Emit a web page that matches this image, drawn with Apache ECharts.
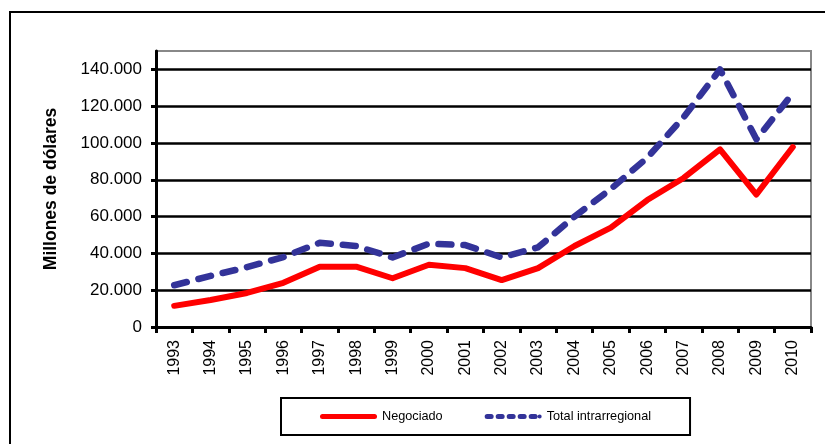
<!DOCTYPE html>
<html>
<head>
<meta charset="UTF-8">
<title>Comercio intrarregional</title>
<script src="https://cdn.jsdelivr.net/npm/echarts@6/dist/echarts.min.js"></script>
<style>
  html, body { margin: 0; padding: 0; background: #fff; }
  #chart { width: 825px; height: 444px; }
</style>
</head>
<body>
<div id="chart"></div>
<script>
// datos (millones de dolares)
var years = ['1993', '1994', '1995', '1996', '1997', '1998', '1999', '2000', '2001',
             '2002', '2003', '2004', '2005', '2006', '2007', '2008', '2009', '2010'];
var negociado = [11500, 14700, 18500, 24000, 32800, 32800, 26500, 33800, 32000,
                 25500, 32000, 44000, 54000, 69000, 81000, 96500, 72000, 97800];
var totalIntra = [22700, 27800, 32500, 38000, 45800, 44000, 37800, 45300, 44500,
                  37800, 43300, 60000, 75000, 92000, 114000, 140000, 102000, 127000];
var seriesNames = ['Negociado', 'Total intrarregional'];

var font = 'Arial, "Liberation Sans", sans-serif';

// iconos de la leyenda: linea continua y linea de trazos
var iconSolid = 'path://M2.5,0 H54.5 A2.5,2.5 0 0 1 54.5,5 H2.5 A2.5,2.5 0 0 1 2.5,0 Z';
var iconDash = 'path://M2.5,0 H6.5 A2.5,2.5 0 0 1 6.5,5 H2.5 A2.5,2.5 0 0 1 2.5,0 Z' +
  ' M13.5,0 H17.5 A2.5,2.5 0 0 1 17.5,5 H13.5 A2.5,2.5 0 0 1 13.5,0 Z' +
  ' M24.5,0 H28.5 A2.5,2.5 0 0 1 28.5,5 H24.5 A2.5,2.5 0 0 1 24.5,0 Z' +
  ' M35.5,0 H39.5 A2.5,2.5 0 0 1 39.5,5 H35.5 A2.5,2.5 0 0 1 35.5,0 Z' +
  ' M46.5,0 H50.5 A2.5,2.5 0 0 1 50.5,5 H46.5 A2.5,2.5 0 0 1 46.5,0 Z' +
  ' M55,0.5 A2,2 0 0 1 55,4.5 A2,2 0 0 1 55,0.5 Z';

function miles(v) {
  // 140000 -> 140.000
  return String(v).replace(/\B(?=(\d{3})+(?!\d))/g, '.');
}

var chart = echarts.init(document.getElementById('chart'), null, { renderer: 'canvas' });

chart.setOption({
  backgroundColor: '#fff',
  animation: false,
  textStyle: { fontFamily: font, color: '#000' },
  graphic: [{
    type: 'rect',
    shape: { x: 10, y: 12, width: 840, height: 460 },
    style: { fill: 'none', stroke: '#000', lineWidth: 2 },
    z: 0
  }],
  grid: {
    left: 156, top: 51, right: 14, bottom: 117,
    show: true,
    borderColor: '#888',
    borderWidth: 2,
    backgroundColor: 'transparent'
  },
  legend: {
    data: [
      { name: seriesNames[0], icon: iconSolid },
      { name: seriesNames[1], icon: iconDash }
    ],
    left: 281,
    top: 398,
    orient: 'horizontal',
    itemWidth: 57,
    itemHeight: 5,
    itemGap: 42,
    symbolKeepAspect: false,
    padding: [12, 39, 12, 39],
    borderColor: '#000',
    borderWidth: 2,
    textStyle: { fontFamily: font, fontSize: 12.7, color: '#000' }
  },
  xAxis: {
    type: 'category',
    data: years,
    boundaryGap: true,
    axisLine: { show: true, lineStyle: { color: '#000', width: 3 } },
    axisTick: { show: true, interval: 0, length: 6, lineStyle: { color: '#000', width: 3 } },
    axisLabel: {
      interval: 0, rotate: 90, margin: 13,
      fontFamily: font, fontSize: 16, color: '#000'
    },
    splitLine: { show: false }
  },
  yAxis: {
    type: 'value',
    min: 0,
    max: 150000,
    interval: 20000,
    name: 'Millones de dólares',
    nameLocation: 'middle',
    nameGap: 96,
    nameTextStyle: { fontFamily: font, fontSize: 17.5, fontWeight: 'bold', color: '#000' },
    axisLine: { show: true, lineStyle: { color: '#000', width: 3 } },
    axisTick: { show: true, length: 5, lineStyle: { color: '#000', width: 3 } },
    axisLabel: {
      margin: 14, showMaxLabel: false,
      fontFamily: font, fontSize: 17, color: '#000',
      formatter: miles
    },
    splitLine: {
      show: true,
      lineStyle: {
        color: ['#000', '#000', '#000', '#000', '#000', '#000', '#000', '#000', 'rgba(0,0,0,0)'],
        width: 2.5
      }
    }
  },
  series: [{
    name: seriesNames[0],
    type: 'line',
    data: negociado,
    symbol: 'none',
    color: '#ff0000',
    lineStyle: { color: '#ff0000', width: 6, join: 'round', cap: 'round' },
    z: 3
  }, {
    name: seriesNames[1],
    type: 'line',
    data: totalIntra,
    symbol: 'none',
    color: '#333399',
    lineStyle: { color: '#333399', width: 6.5, type: [13, 12], cap: 'round', join: 'round' },
    z: 4
  }]
});
</script>
</body>
</html>
